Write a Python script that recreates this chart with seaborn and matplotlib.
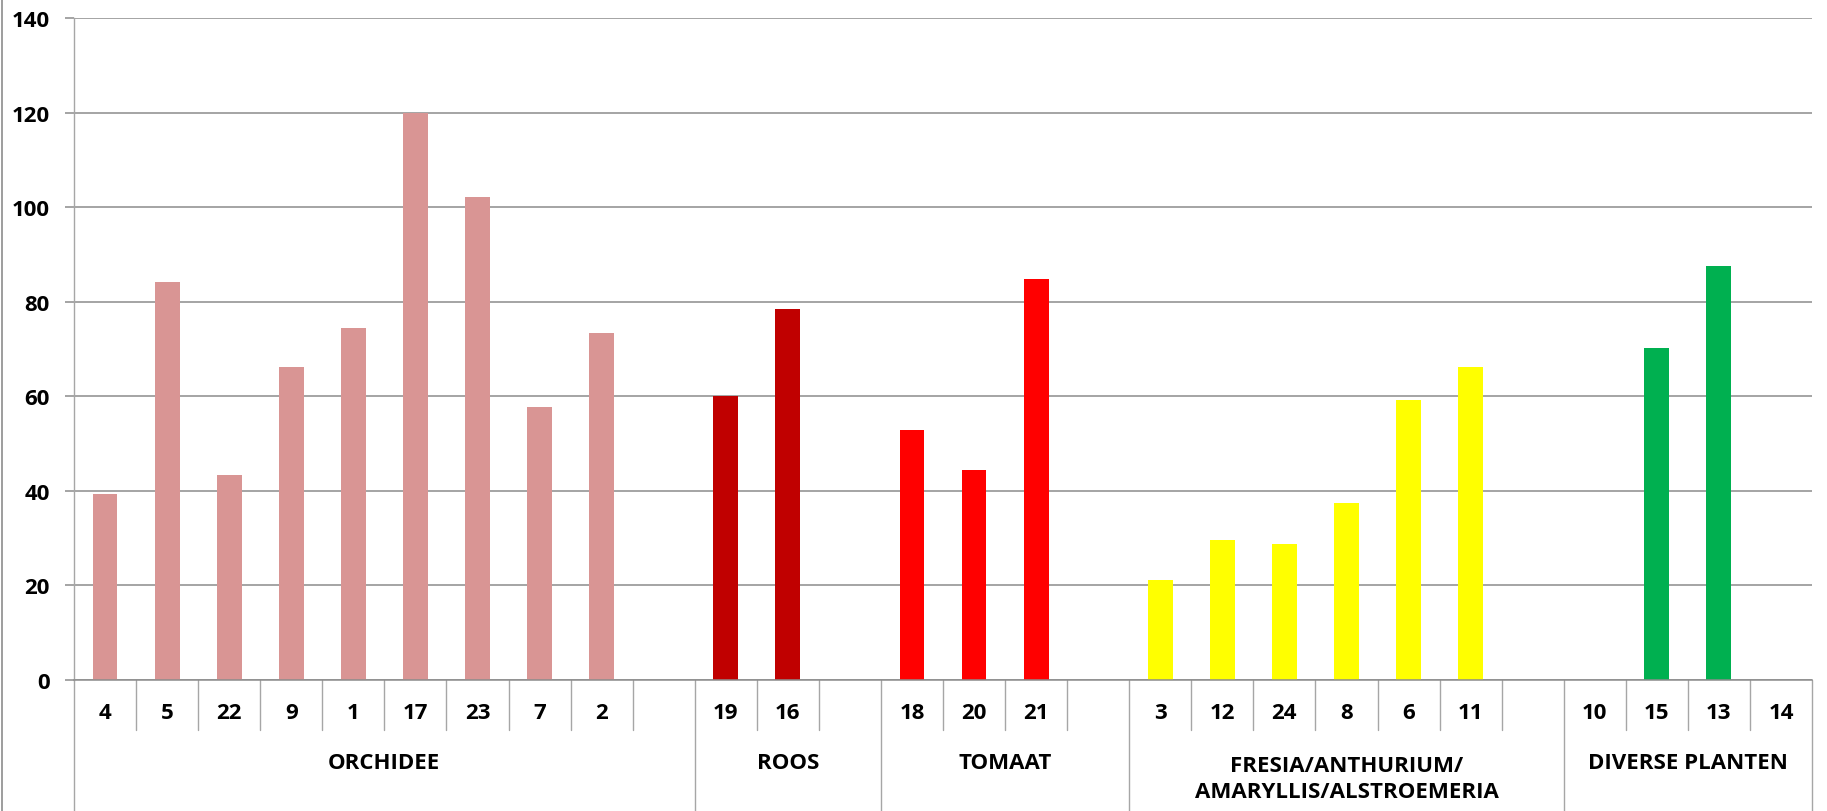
import matplotlib
matplotlib.use("Agg")
import matplotlib.pyplot as plt
from matplotlib.lines import Line2D
import matplotlib.transforms as mtransforms
import numpy as np
import pandas as pd
import seaborn as sns

# ---- data -------------------------------------------------------------
groups = ["ORCHIDEE", "ROOS", "TOMAAT",
          "FRESIA/ANTHURIUM/\nAMARYLLIS/ALSTROEMERIA", "DIVERSE PLANTEN"]

orchidee_ids = ["4", "5", "22", "9", "1", "17", "23", "7", "2"]
orchidee_vals = [39.4, 84.2, 43.4, 66.1, 74.5, 120.0, 102.2, 57.7, 73.3]

roos_ids = ["19", "16"]
roos_vals = [60.0, 78.4]

tomaat_ids = ["18", "20", "21"]
tomaat_vals = [52.8, 44.3, 84.8]

fresia_ids = ["3", "12", "24", "8", "6", "11"]
fresia_vals = [21.1, 29.5, 28.7, 37.5, 59.2, 66.2]

diverse_ids = ["10", "15", "13", "14"]
diverse_vals = [0, 70.2, 87.6, 0]

group_colors = ["#D99594", "#C00000", "#FF0000", "#FFFF00", "#00B050"]

y_ticks = [0, 20, 40, 60, 80, 100, 120, 140]

# ---- layout of the category slots (one empty slot between groups) -----
ids_per_group = [orchidee_ids, roos_ids, tomaat_ids, fresia_ids, diverse_ids]
vals_per_group = [orchidee_vals, roos_vals, tomaat_vals, fresia_vals, diverse_vals]

rows = []
slot_order = []
slot_labels = []
group_spans = []
pos = 0
for gi, (g, ids, vals) in enumerate(zip(groups, ids_per_group, vals_per_group)):
    start = pos
    for i, v in zip(ids, vals):
        key = f"{gi}_{i}"
        slot_order.append(key)
        slot_labels.append(i)
        rows.append({"slot": key, "value": v, "group": g})
        pos += 1
    if gi < len(groups) - 1:
        key = f"{gi}_gap"
        slot_order.append(key)
        slot_labels.append("")
        pos += 1
    group_spans.append((start, pos))

df = pd.DataFrame(rows)
n_slots = len(slot_order)

# ---- figure -----------------------------------------------------------
sns.set_style("white")
plt.rcParams["font.family"] = ["Open Sans", "DejaVu Sans"]
FS = 16

W, H = 1827, 812
fig = plt.figure(figsize=(W / 100, H / 100), dpi=100)
x0, x1 = 74, 1812
y_top, y_zero = 19.2, 680.7
ax = fig.add_axes([x0 / W, 1 - y_zero / H, (x1 - x0) / W, (y_zero - y_top) / H])

sns.barplot(data=df, x="slot", y="value", hue="group", order=slot_order,
            hue_order=groups, palette=group_colors, dodge=False, width=0.4,
            saturation=1, linewidth=0, legend=False, ax=ax)

grid_c = "#8c8c8c"
sep_c = "#a6a6a6"

ax.set_xlim(-0.5, n_slots - 0.5)
ax.set_ylim(0, 140)
ax.set_yticks(y_ticks)
ax.set_yticklabels([str(t) for t in y_ticks], fontsize=FS, fontweight="bold",
                   color="black")
ax.tick_params(axis="y", length=6.5, width=1.1, color=grid_c, pad=11,
               left=True)
ax.set_xticks([])
ax.set_xlabel("")
ax.set_ylabel("")
ax.yaxis.grid(True, color=grid_c, linewidth=1.1)
ax.set_axisbelow(True)
for s in ["top", "right"]:
    ax.spines[s].set_visible(False)
ax.spines["left"].set_color(sep_c)
ax.spines["left"].set_linewidth(1.0)
ax.spines["bottom"].set_color(grid_c)
ax.spines["bottom"].set_linewidth(1.1)

# ---- two-level category axis ------------------------------------------
ax_h = y_zero - y_top
def ay(px):
    """figure-pixel y below the zero line -> axes fraction"""
    return (y_zero - px) / ax_h

trans = mtransforms.blended_transform_factory(ax.transData, ax.transAxes)
group_edges = {0}
for s, e in group_spans:
    group_edges.add(e)

for b in range(n_slots + 1):
    xb = b - 0.5
    y_end = ay(H) if b in group_edges else ay(731)
    ax.add_line(Line2D([xb, xb], [0, y_end], transform=trans, color=sep_c,
                       linewidth=1.0, clip_on=False))

for i, lab in enumerate(slot_labels):
    if lab:
        ax.text(i, ay(714), lab, transform=trans, ha="center", va="center",
                fontsize=FS, fontweight="bold", color="black")

for g, (s, e) in zip(groups, group_spans):
    xc = (s + e - 1) / 2
    n_lines = g.count("\n") + 1
    yc = 764 + (n_lines - 1) * 15.5
    ax.text(xc, ay(yc), g, transform=trans, ha="center", va="center",
            fontsize=FS, fontweight="bold", color="black", linespacing=1.3)

# thin frame line along the left edge of the chart area
fig.add_artist(Line2D([1.5 / W, 1.5 / W], [0, 1], transform=fig.transFigure,
                      color=grid_c, linewidth=1.2))

fig.savefig("out.png", dpi=100)
